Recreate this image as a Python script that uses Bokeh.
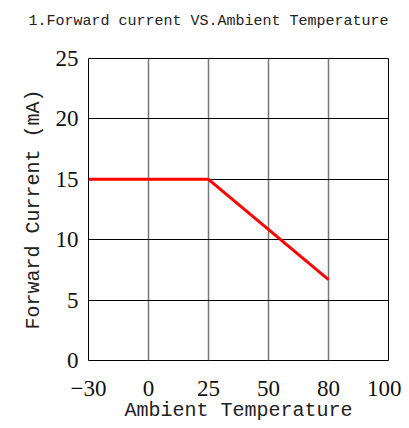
from bokeh.plotting import figure
from bokeh.models import FixedTicker, Range1d, Title
from bokeh.embed import file_html
from bokeh.resources import INLINE

temp_labels = ["-30", "0", "25", "50", "80", "100"]
curve_temp_idx = [0, 2, 4]          # positions of -30, 25, 80 on the evenly spaced axis
curve_current = [15.0, 15.0, 6.7]
y_ticks = [0, 5, 10, 15, 20, 25]
title_text = "1.Forward current VS.Ambient Temperature"

p = figure(width=401, height=426, output_backend="svg", toolbar_location=None,
           x_range=Range1d(0, 5), y_range=Range1d(0, 25),
           min_border_left=88, min_border_right=13, min_border_top=58, min_border_bottom=66)
p.title = None
p.add_layout(Title(text=title_text + "\n ", align="right", vertical_align="bottom",
                   text_font="Liberation Mono", text_font_size="15px",
                   text_font_style="normal", text_color="#222222", offset=0,
                   standoff=20, text_line_height=1.1), "above")

p.line(curve_temp_idx, curve_current, line_color="#ff0000", line_width=3)

p.xaxis.ticker = FixedTicker(ticks=list(range(len(temp_labels))))
p.xaxis.major_label_overrides = {i: t.replace("-", "\u2212") for i, t in enumerate(temp_labels)}
p.yaxis.ticker = FixedTicker(ticks=y_ticks)

for ax in (p.xaxis, p.yaxis):
    ax.major_tick_out = 0
    ax.major_tick_in = 0
    ax.minor_tick_out = 0
    ax.minor_tick_in = 0
    ax.axis_line_color = None
    ax.major_label_text_font = "Liberation Serif"
    ax.major_label_text_font_size = "23px"
    ax.major_label_text_color = "#111111"
    ax.axis_label_text_font = "Liberation Mono"
    ax.axis_label_text_font_size = "20px"
    ax.axis_label_text_font_style = "normal"
    ax.axis_label_text_color = "#222222"

p.xaxis.axis_label = "Ambient Temperature"
p.yaxis.axis_label = "Forward Current (mA)"
p.xaxis.major_label_standoff = 20
p.yaxis.major_label_standoff = 10
p.xaxis.axis_label_standoff = 0
p.yaxis.axis_label_standoff = 8

p.xgrid.grid_line_color = "#777777"
p.xgrid.grid_line_width = 1.5
p.ygrid.grid_line_color = "#000000"
p.ygrid.grid_line_width = 1
p.outline_line_color = "#000000"
p.outline_line_width = 1
p.background_fill_color = "white"

open("out.html", "w").write(file_html(p, INLINE))
